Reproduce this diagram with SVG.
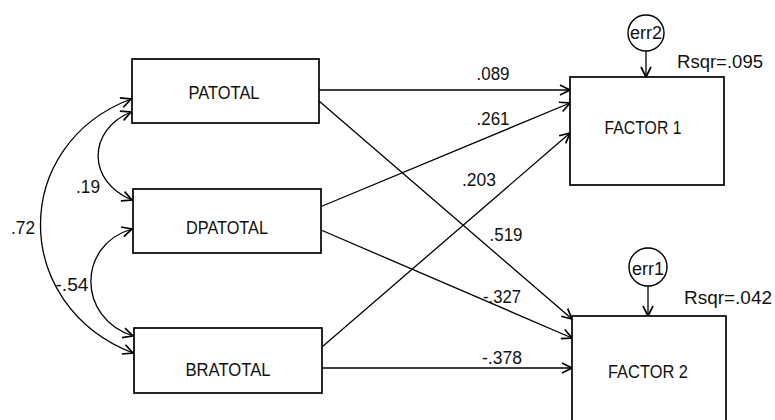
<svg xmlns="http://www.w3.org/2000/svg" width="775" height="420" viewBox="0 0 775 420">
<defs>
<marker id="ah" viewBox="0 0 12 12" refX="11" refY="6" markerWidth="12" markerHeight="12" markerUnits="userSpaceOnUse" orient="auto-start-reverse">
<path d="M1,1 L11,6 L1,11" fill="none" stroke="#000" stroke-width="1.7"/>
</marker>
</defs>
<style>
.box{fill:#fff;stroke:#000;stroke-width:1.7}
.lbl{font-family:"Liberation Sans",Arial,sans-serif;font-size:18px;fill:#111;text-anchor:middle;dominant-baseline:central}
.num{font-family:"Liberation Sans",Arial,sans-serif;font-size:18px;fill:#111;text-anchor:middle;dominant-baseline:central}
.c{fill:none;stroke:#000;stroke-width:1.3;marker-end:url(#ah)}
.d{fill:none;stroke:#000;stroke-width:1.3;marker-start:url(#ah);marker-end:url(#ah)}
</style>
<rect width="775" height="420" fill="#fff"/>
<g id="connectors">
<path class="c" d="M319,90 L570,90"/>
<path class="c" d="M320,207 L570,103"/>
<path class="c" d="M322,347 L570,133"/>
<path class="c" d="M319,101 L572,319"/>
<path class="c" d="M321,230 L572,338"/>
<path class="c" d="M322,368 L572,368"/>
<path class="c" d="M646,51 L646,77"/>
<path class="c" d="M648,286 L648,316"/>
<path class="d" d="M131,99 C10,145 10,305 133,353"/>
<path class="d" d="M131,112 C87,130 87,182 132,200"/>
<path class="d" d="M132,229 C77,245 77,318 133,336"/>
<text class="num" x="493" y="74" textLength="33" lengthAdjust="spacingAndGlyphs">.089</text>
<text class="num" x="493" y="119" textLength="33" lengthAdjust="spacingAndGlyphs">.261</text>
<text class="num" x="479" y="180" textLength="34" lengthAdjust="spacingAndGlyphs">.203</text>
<text class="num" x="506" y="235" textLength="33" lengthAdjust="spacingAndGlyphs">.519</text>
<text class="num" x="502" y="297" textLength="38" lengthAdjust="spacingAndGlyphs">-.327</text>
<text class="num" x="502" y="358" textLength="40" lengthAdjust="spacingAndGlyphs">-.378</text>
<text class="num" x="88" y="187" textLength="24" lengthAdjust="spacingAndGlyphs">.19</text>
<text class="num" x="72" y="285" textLength="33" lengthAdjust="spacingAndGlyphs">-.54</text>
<text class="num" x="23" y="228" textLength="24" lengthAdjust="spacingAndGlyphs">.72</text>
</g>
<g id="PATOTAL"><rect class="box" x="132" y="59" width="187" height="64"/><text class="lbl" x="224" y="93" textLength="71" lengthAdjust="spacingAndGlyphs">PATOTAL</text></g>
<g id="DPATOTAL"><rect class="box" x="133" y="189" width="188" height="64"/><text class="lbl" x="227" y="228" textLength="82" lengthAdjust="spacingAndGlyphs">DPATOTAL</text></g>
<g id="BRATOTAL"><rect class="box" x="134" y="328" width="188" height="65"/><text class="lbl" x="228" y="370" textLength="85" lengthAdjust="spacingAndGlyphs">BRATOTAL</text></g>
<g id="FACTOR1"><rect class="box" x="570" y="77" width="154" height="108"/><text class="lbl" x="643" y="128" textLength="77" lengthAdjust="spacingAndGlyphs">FACTOR 1</text></g>
<g id="FACTOR2"><rect class="box" x="572" y="316" width="154" height="120"/><text class="lbl" x="648" y="372" textLength="80" lengthAdjust="spacingAndGlyphs">FACTOR 2</text></g>
<g id="err2"><circle cx="646" cy="33" r="18" fill="#fff" stroke="#000" stroke-width="1.4"/><text class="lbl" x="646" y="33" textLength="32" lengthAdjust="spacingAndGlyphs">err2</text></g>
<g id="err1"><circle cx="648" cy="267" r="19" fill="#fff" stroke="#000" stroke-width="1.4"/><text class="lbl" x="648" y="269" textLength="32" lengthAdjust="spacingAndGlyphs">err1</text></g>
<text class="num" x="720" y="62" textLength="86" lengthAdjust="spacingAndGlyphs">Rsqr=.095</text>
<text class="num" x="728" y="298" textLength="88" lengthAdjust="spacingAndGlyphs">Rsqr=.042</text>
</svg>
